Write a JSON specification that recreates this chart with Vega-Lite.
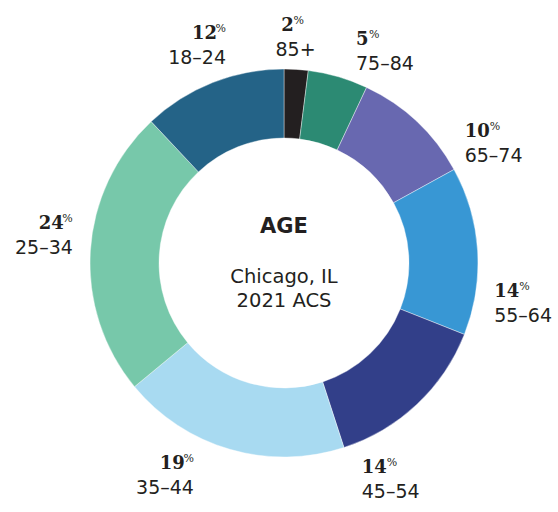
{
  "$schema": "https://vega.github.io/schema/vega-lite/v6.json",
  "width": 558,
  "height": 512,
  "autosize": {"type": "fit", "contains": "padding"},
  "padding": {"left": 10, "top": 14, "right": 0, "bottom": 0},
  "background": "white",
  "config": {"view": {"stroke": null}},
  "layer": [
    {
      "data": {"values": [
        {"age": "85+", "pct": 2},
        {"age": "75–84", "pct": 5},
        {"age": "65–74", "pct": 10},
        {"age": "55–64", "pct": 14},
        {"age": "45–54", "pct": 14},
        {"age": "35–44", "pct": 19},
        {"age": "25–34", "pct": 24},
        {"age": "18–24", "pct": 12}
      ]},
      "encoding": {
        "order": {"field": "age", "sort": "descending"}
      },
      "layer": [
        {
          "mark": {"type": "arc", "outerRadius": 194, "innerRadius": 125, "stroke": "white", "strokeWidth": 0.4},
          "encoding": {
            "theta": {"field": "pct", "type": "quantitative", "stack": true},
            "color": {
              "field": "age", "type": "nominal", "legend": null,
              "scale": {
                "domain": ["85+", "75–84", "65–74", "55–64", "45–54", "35–44", "25–34", "18–24"],
                "range": ["#231f20", "#2c8a73", "#6868b0", "#3897d4", "#323f89", "#a8daf1", "#77c8aa", "#246387"]
              }
            }
          }
        },
        {
          "mark": {
            "type": "text", "radius": 230, "font": "DejaVu Serif", "fontWeight": "bold", "fontSize": 18,
            "fill": "#231f20", "baseline": "alphabetic", "dy": -2.5,
            "align": {"expr": "(datum.pct_start+datum.pct_end)/2 < 3 ? 'center' : ((datum.pct_start+datum.pct_end)/2 < 50 ? 'left' : 'right')"},
            "dx": {"expr": "((datum.pct_start+datum.pct_end)/2 < 3 ? -8 : ((datum.pct_start+datum.pct_end)/2 < 50 ? 0 : -9)) - 17*sin(2*PI*(datum.pct_start+datum.pct_end)/200 + 0.15)"}
          },
          "encoding": {
            "theta": {"field": "pct", "type": "quantitative", "stack": true,
              "scale": {"domain": [0, 1, 4.5, 12, 24, 38, 54.5, 76, 94, 100], "range": [0, 0.066, 0.351, 1.004, 1.73, 2.752, 3.578, 4.851, 6.011, 6.283]}},
            "text": {"field": "pct", "type": "quantitative", "format": "d"}
          }
        },
        {
          "mark": {
            "type": "text", "radius": 230, "font": "DejaVu Serif", "fontSize": 11,
            "fill": "#231f20", "baseline": "alphabetic", "dy": -9.5,
            "align": {"expr": "(datum.pct_start+datum.pct_end)/2 < 50 ? 'left' : 'right'"},
            "dx": {"expr": "((datum.pct_start+datum.pct_end)/2 < 3 ? -2 : ((datum.pct_start+datum.pct_end)/2 < 50 ? (datum.pct >= 10 ? 25 : 13) : 0)) - 17*sin(2*PI*(datum.pct_start+datum.pct_end)/200 + 0.15)"}
          },
          "encoding": {
            "theta": {"field": "pct", "type": "quantitative", "stack": true,
              "scale": {"domain": [0, 1, 4.5, 12, 24, 38, 54.5, 76, 94, 100], "range": [0, 0.066, 0.351, 1.004, 1.73, 2.752, 3.578, 4.851, 6.011, 6.283]}},
            "text": {"value": "%"}
          }
        },
        {
          "mark": {
            "type": "text", "radius": 230, "font": "DejaVu Sans", "fontSize": 19,
            "fill": "#231f20", "baseline": "alphabetic", "dy": 22.5,
            "align": {"expr": "(datum.pct_start+datum.pct_end)/2 < 3 ? 'center' : ((datum.pct_start+datum.pct_end)/2 < 50 ? 'left' : 'right')"},
            "dx": {"expr": "-17*sin(2*PI*(datum.pct_start+datum.pct_end)/200 + 0.15)"}
          },
          "encoding": {
            "theta": {"field": "pct", "type": "quantitative", "stack": true,
              "scale": {"domain": [0, 1, 4.5, 12, 24, 38, 54.5, 76, 94, 100], "range": [0, 0.066, 0.351, 1.004, 1.73, 2.752, 3.578, 4.851, 6.011, 6.283]}},
            "text": {"field": "age", "type": "nominal"}
          }
        }
      ],
      "resolve": {"scale": {"theta": "independent"}}
    },
    {
      "data": {"values": [{"t": "AGE"}]},
      "mark": {"type": "text", "font": "DejaVu Sans", "fontWeight": "bold", "fontSize": 21, "fill": "#231f20", "baseline": "alphabetic", "dy": -30},
      "encoding": {"text": {"field": "t", "type": "nominal"}}
    },
    {
      "data": {"values": [{"t": "Chicago, IL"}]},
      "mark": {"type": "text", "font": "DejaVu Sans", "fontSize": 19.5, "fill": "#231f20", "baseline": "alphabetic", "dy": 20},
      "encoding": {"text": {"field": "t", "type": "nominal"}}
    },
    {
      "data": {"values": [{"t": "2021 ACS"}]},
      "mark": {"type": "text", "font": "DejaVu Sans", "fontSize": 19.5, "fill": "#231f20", "baseline": "alphabetic", "dy": 44},
      "encoding": {"text": {"field": "t", "type": "nominal"}}
    }
  ]
}
